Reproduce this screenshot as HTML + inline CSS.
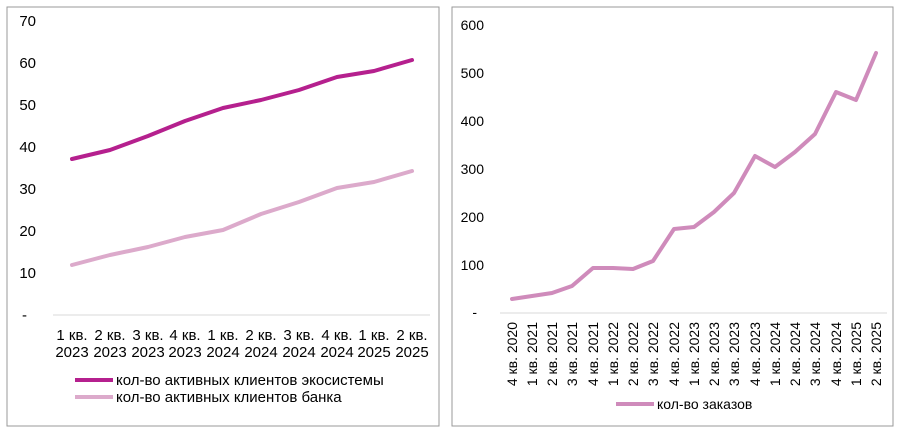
<!DOCTYPE html>
<html><head><meta charset="utf-8"><style>
body{margin:0;background:#fff;}
text{font-family:"Liberation Sans",sans-serif;fill:#000;}
</style></head><body>
<svg width="901" height="438" xmlns="http://www.w3.org/2000/svg">
<rect x="7" y="7" width="432" height="419" fill="#fff" stroke="#999" stroke-width="1"/>
<rect x="452" y="7" width="441" height="419" fill="#fff" stroke="#999" stroke-width="1"/>
<g font-size="15" text-anchor="end">
<text x="36" y="26">70</text><text x="36" y="68">60</text><text x="36" y="110">50</text><text x="36" y="152">40</text><text x="36" y="194">30</text><text x="36" y="236">20</text><text x="36" y="278">10</text><text x="27" y="320">-</text>
</g>
<line x1="53" y1="315" x2="430" y2="315" stroke="#d9d9d9" stroke-width="1"/>
<g font-size="15" text-anchor="middle">
<text x="72" y="340">1 кв.</text><text x="72" y="357">2023</text>
<text x="110" y="340">2 кв.</text><text x="110" y="357">2023</text>
<text x="148" y="340">3 кв.</text><text x="148" y="357">2023</text>
<text x="185" y="340">4 кв.</text><text x="185" y="357">2023</text>
<text x="223" y="340">1 кв.</text><text x="223" y="357">2024</text>
<text x="261" y="340">2 кв.</text><text x="261" y="357">2024</text>
<text x="299" y="340">3 кв.</text><text x="299" y="357">2024</text>
<text x="337" y="340">4 кв.</text><text x="337" y="357">2024</text>
<text x="374" y="340">1 кв.</text><text x="374" y="357">2025</text>
<text x="412" y="340">2 кв.</text><text x="412" y="357">2025</text>
</g>
<polyline fill="none" stroke="#b5208e" stroke-width="4" stroke-linejoin="round" stroke-linecap="round" points="72,159 110,150 148,136 185,121 223,108 261,100 299,90 337,77 374,71 412,60"/>
<polyline fill="none" stroke="#dcaacb" stroke-width="4" stroke-linejoin="round" stroke-linecap="round" points="72,265 110,255 148,247 185,237 223,230 261,214 299,202 337,188 374,182 412,171"/>
<line x1="75" y1="380" x2="113" y2="380" stroke="#b5208e" stroke-width="4"/>
<text x="116" y="385" font-size="15">кол-во активных клиентов экосистемы</text>
<line x1="75" y1="397" x2="113" y2="397" stroke="#dcaacb" stroke-width="4"/>
<text x="116" y="402" font-size="15">кол-во активных клиентов банка</text>

<g font-size="14" text-anchor="end">
<text x="484" y="30">600</text><text x="484" y="78">500</text><text x="484" y="126">400</text><text x="484" y="174">300</text><text x="484" y="222">200</text><text x="484" y="270">100</text><text x="477" y="317">-</text>
</g>
<line x1="500" y1="313" x2="887" y2="313" stroke="#d9d9d9" stroke-width="1"/>
<g font-size="14" text-anchor="end">
<text transform="translate(517,322) rotate(-90)">4 кв. 2020</text>
<text transform="translate(537,322) rotate(-90)">1 кв. 2021</text>
<text transform="translate(557,322) rotate(-90)">2 кв. 2021</text>
<text transform="translate(577,322) rotate(-90)">3 кв. 2021</text>
<text transform="translate(598,322) rotate(-90)">4 кв. 2021</text>
<text transform="translate(618,322) rotate(-90)">1 кв. 2022</text>
<text transform="translate(638,322) rotate(-90)">2 кв. 2022</text>
<text transform="translate(658,322) rotate(-90)">3 кв. 2022</text>
<text transform="translate(679,322) rotate(-90)">4 кв. 2022</text>
<text transform="translate(699,322) rotate(-90)">1 кв. 2023</text>
<text transform="translate(719,322) rotate(-90)">2 кв. 2023</text>
<text transform="translate(739,322) rotate(-90)">3 кв. 2023</text>
<text transform="translate(760,322) rotate(-90)">4 кв. 2023</text>
<text transform="translate(780,322) rotate(-90)">1 кв. 2024</text>
<text transform="translate(800,322) rotate(-90)">2 кв. 2024</text>
<text transform="translate(820,322) rotate(-90)">3 кв. 2024</text>
<text transform="translate(841,322) rotate(-90)">4 кв. 2024</text>
<text transform="translate(861,322) rotate(-90)">1 кв. 2025</text>
<text transform="translate(881,322) rotate(-90)">2 кв. 2025</text>
</g>
<polyline fill="none" stroke="#cf8bbb" stroke-width="4" stroke-linejoin="round" stroke-linecap="round" points="512,299 532,296 552,293 572,286 593,268 613,268 633,269 653,261 674,229 694,227 714,212 734,193 755,156 775,167 795,152 815,134 836,92 856,100 876,53"/>
<line x1="616" y1="404" x2="654" y2="404" stroke="#cf8bbb" stroke-width="4"/>
<text x="657" y="409" font-size="14">кол-во заказов</text>
</svg>
</body></html>
